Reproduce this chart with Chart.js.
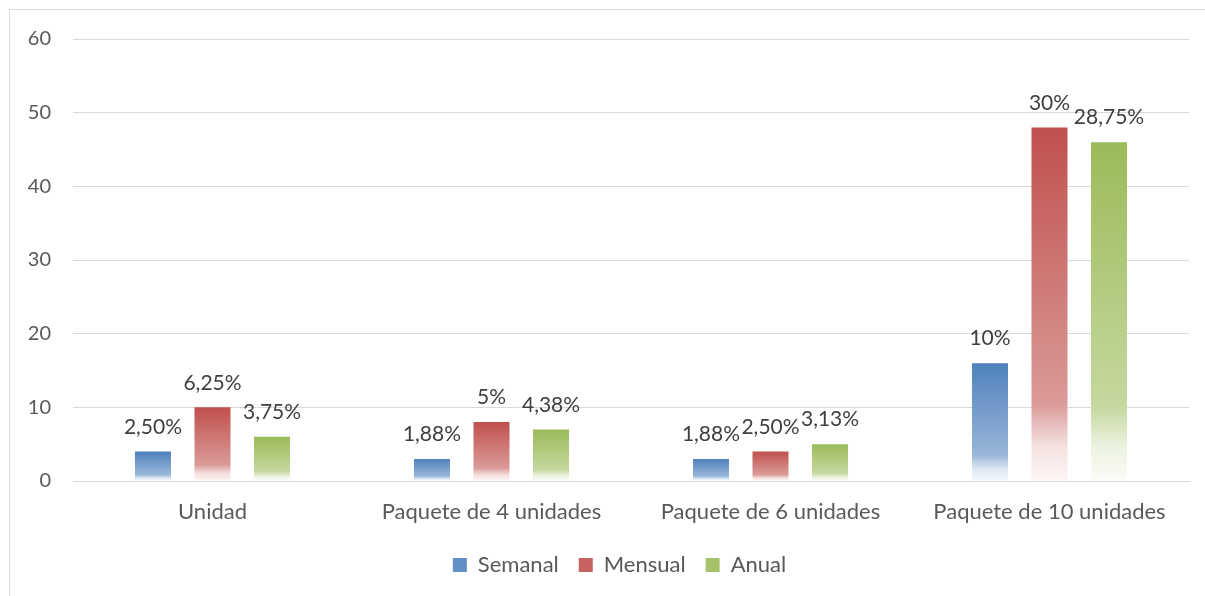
<!DOCTYPE html>
<html>
<head>
<meta charset="utf-8">
<script src="https://cdn.jsdelivr.net/npm/chart.js@4.4.0/dist/chart.umd.min.js"></script>
<style>
  html, body { margin: 0; padding: 0; background: #fff; overflow: hidden; }
  #marco {
    position: absolute; left: 9px; top: 9px;
    width: 1200px; height: 590px;
    border: 1px solid #d9d9d9; background: #fff;
  }
  #grafica { display: block; }
</style>
</head>
<body>
<div id="marco">
  <canvas id="grafica" width="1195" height="586"></canvas>
</div>
<script>
// Datos
const categorias = ["Unidad", "Paquete de 4 unidades", "Paquete de 6 unidades", "Paquete de 10 unidades"];
const semanal = [4, 3, 3, 16];
const mensual = [10, 8, 4, 48];
const anual = [6, 7, 5, 46];
const etiquetasSemanal = ["2,50%", "1,88%", "1,88%", "10%"];
const etiquetasMensual = ["6,25%", "5%", "2,50%", "30%"];
const etiquetasAnual = ["3,75%", "4,38%", "3,13%", "28,75%"];
const ticksY = [0, 10, 20, 30, 40, 50, 60];

const FUENTE = "Lato, 'Open Sans', sans-serif";

// mezcla un color con blanco
function aclarar(rgb, t) {
    const r = Math.round(rgb[0] + (255 - rgb[0]) * t);
    const g = Math.round(rgb[1] + (255 - rgb[1]) * t);
    const b = Math.round(rgb[2] + (255 - rgb[2]) * t);
    return `rgb(${r},${g},${b})`;
}

// degradado por barra (de arriba a abajo)
function degradado(rgb) {
    return (c) => {
        const chart = c.chart;
        if (!chart.chartArea || c.type !== "data") return `rgb(${rgb.join(",")})`;
        const y = chart.scales.y;
        const top = y.getPixelForValue(c.parsed.y);
        const base = y.getPixelForValue(0);
        if (!(base > top)) return `rgb(${rgb.join(",")})`;
        const g = chart.ctx.createLinearGradient(0, top, 0, base);
        g.addColorStop(0, `rgb(${rgb.join(",")})`);
        g.addColorStop(0.78, aclarar(rgb, 0.42));
        g.addColorStop(0.9, aclarar(rgb, 0.82));
        g.addColorStop(1, aclarar(rgb, 0.95));
        return g;
    };
}

const azul = [79, 129, 189];
const rojo = [192, 80, 77];
const verde = [155, 187, 89];

// etiquetas encima de las barras
const etiquetasPlugin = {
    id: "etiquetas",
    afterDatasetsDraw(chart) {
        const ctx = chart.ctx;
        ctx.save();
        ctx.font = "21px " + FUENTE;
        ctx.fillStyle = "#404040";
        ctx.textAlign = "center";
        ctx.textBaseline = "bottom";
        chart.data.datasets.forEach((ds, i) => {
            chart.getDatasetMeta(i).data.forEach((bar, j) => {
                ctx.fillText(ds.etiquetas[j], bar.x, bar.y - 14);
            });
        });
        ctx.restore();
    }
};

// la leyenda de Excel queda un poco a la derecha
const moverLeyenda = {
    id: "moverLeyenda",
    afterLayout(chart) {
        if (chart.legend) {
            chart.legend.left += 20;
            chart.legend.right += 20;
        }
    }
};

const ctx = document.getElementById("grafica").getContext("2d");

new Chart(ctx, {
    type: "bar",
    data: {
        labels: categorias,
        datasets: [
            { label: "Semanal", data: semanal, etiquetas: etiquetasSemanal, backgroundColor: degradado(azul), legendColor: azul },
            { label: "Mensual", data: mensual, etiquetas: etiquetasMensual, backgroundColor: degradado(rojo), legendColor: rojo },
            { label: "Anual", data: anual, etiquetas: etiquetasAnual, backgroundColor: degradado(verde), legendColor: verde }
        ]
    },
    options: {
        responsive: false,
        animation: false,
        categoryPercentage: 0.64,
        barPercentage: 0.605,
        layout: { padding: { left: 0, right: 16, top: 29, bottom: 10 } },
        plugins: {
            tooltip: { enabled: false },
            legend: {
                position: "bottom",
                labels: {
                    font: { family: FUENTE, size: 22 },
                    color: "#595959",
                    boxWidth: 14,
                    boxHeight: 14,
                    padding: 20,
                    generateLabels: (chart) => chart.data.datasets.map((ds, i) => ({
                        text: ds.label,
                        fillStyle: aclarar(ds.legendColor, 0.1),
                        strokeStyle: "rgba(0,0,0,0)",
                        lineWidth: 0,
                        fontColor: "#595959",
                        datasetIndex: i
                    }))
                }
            }
        },
        scales: {
            x: {
                grid: { display: false, drawTicks: false },
                border: { display: true, color: "#d9d9d9", width: 1 },
                ticks: { font: { family: FUENTE, size: 22 }, color: "#595959", padding: 18 },
                afterFit: (s) => { s.height = 53; }
            },
            y: {
                min: 0,
                max: 60,
                afterBuildTicks: (s) => { s.ticks = ticksY.map(v => ({ value: v })); },
                grid: { color: "#d9d9d9", drawTicks: false },
                border: { display: false },
                ticks: { font: { family: FUENTE, size: 20, lineHeight: 0.5 }, color: "#595959", padding: 22 },
                afterFit: (s) => { s.width = 63; }
            }
        }
    },
    plugins: [etiquetasPlugin, moverLeyenda]
});
</script>
</body>
</html>
